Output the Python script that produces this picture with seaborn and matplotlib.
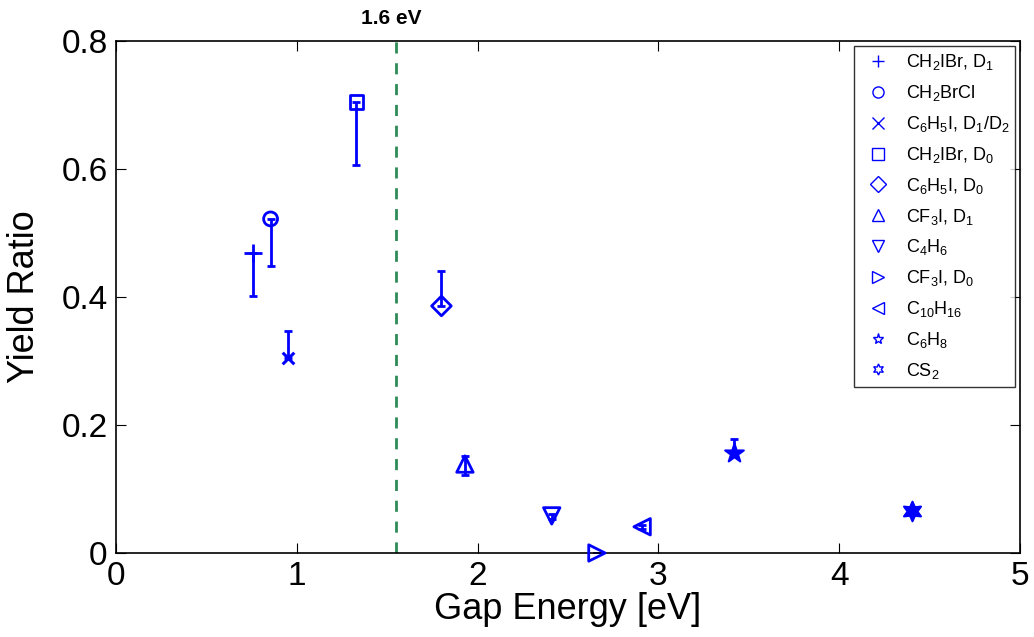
import matplotlib
matplotlib.use("Agg")
import matplotlib.pyplot as plt
from matplotlib.lines import Line2D
import seaborn as sns

# data
labels = [r"CH$_2$IBr, D$_1$", r"CH$_2$BrCl", r"C$_6$H$_5$I, D$_1$/D$_2$", r"CH$_2$IBr, D$_0$",
          r"C$_6$H$_5$I, D$_0$", r"CF$_3$I, D$_1$", r"C$_4$H$_6$", r"CF$_3$I, D$_0$",
          r"C$_{10}$H$_{16}$", r"C$_6$H$_8$", r"CS$_2$"]
gap = [0.76, 0.855, 0.95, 1.33, 1.80, 1.93, 2.41, 2.66, 2.91, 3.42, 4.40]
ratio = [0.469, 0.522, 0.304, 0.705, 0.386, 0.139, 0.058, 0.0, 0.041, 0.156, 0.066]
err_lo = [0.067, 0.073, 0.0, 0.098, 0.0, 0.017, 0.005, 0.0, 0.003, 0.0, 0.004]
err_hi = [0.0, 0.0, 0.043, 0.0, 0.054, 0.012, 0.003, 0.0, 0.002, 0.022, 0.004]
markers = ["+", "o", "x", "s", "D", "^", "v", ">", "<", "*", (6, 1, 0)]
cutoff = 1.55

sns.set_style("ticks")
plt.rcParams["font.family"] = ["Liberation Sans", "DejaVu Sans"]
plt.rcParams["mathtext.fontset"] = "custom"
plt.rcParams["mathtext.rm"] = "Liberation Sans"
plt.rcParams["mathtext.it"] = "Liberation Sans"
for key in ("text.color", "axes.labelcolor", "xtick.color", "ytick.color", "axes.edgecolor"):
    plt.rcParams[key] = "black"

fig = plt.figure(figsize=(10.34, 6.37), dpi=100)
ax = fig.add_axes([116 / 1034, 1 - 553 / 637, 904 / 1034, 512 / 637])

blue = (0, 0, 1)
for i, m in enumerate(markers):
    ax.errorbar([gap[i]], [ratio[i]], yerr=[[err_lo[i]], [err_hi[i]]], fmt="none",
                ecolor=blue, elinewidth=2, capsize=3, capthick=2, zorder=2)
    if m == "+":
        sns.scatterplot(x=[gap[i]], y=[ratio[i]], marker=m, s=150, color=blue,
                        linewidth=2, ax=ax, zorder=3)
    elif m == "x":
        sns.scatterplot(x=[gap[i]], y=[ratio[i]], marker=m, s=70, color=blue,
                        linewidth=2.2, ax=ax, zorder=3)
    elif m == "*" or isinstance(m, tuple):
        sns.scatterplot(x=[gap[i]], y=[ratio[i]], marker=m, s=200, color=blue,
                        edgecolor=blue, linewidth=1.5, ax=ax, zorder=3)
    else:
        size = 100 if m in ("o", "s", "D") else 140
        sns.scatterplot(x=[gap[i]], y=[ratio[i]], marker=m, s=size, facecolor="none",
                        edgecolor=blue, linewidth=2, ax=ax, zorder=3, clip_on=False)

ax.axvline(cutoff, color="#2e8b57", linestyle=(0, (4, 3.5)), linewidth=2, zorder=1)
ax.text(cutoff - 0.03, 0.82, "1.6 eV", ha="center", va="bottom", fontsize=15,
        fontweight="bold")

ax.set_xlim(0, 5)
ax.set_ylim(0, 0.8)
ax.set_xticks([0, 1, 2, 3, 4, 5])
ax.set_yticks([0, 0.2, 0.4, 0.6, 0.8])
ax.set_yticklabels(["0", "0.2", "0.4", "0.6", "0.8"])
ax.tick_params(direction="in", labelsize=24, length=7, width=0.8, pad=6,
               top=True, right=True)
for s in ax.spines.values():
    s.set_linewidth(1.2)
ax.set_xlabel("Gap Energy [eV]", fontsize=26, labelpad=0)
ax.set_ylabel("Yield Ratio", fontsize=26, labelpad=14)

handles = []
for m, lab in zip(markers, labels):
    if m in ("+", "x"):
        h = Line2D([], [], linestyle="none", marker=m, color=blue, markersize=8,
                   markeredgewidth=1)
    else:
        h = Line2D([], [], linestyle="none", marker=m, markerfacecolor="none",
                   markeredgecolor=blue, markersize=8, markeredgewidth=1)
    handles.append(h)
leg = ax.legend(handles, labels, loc="upper right", fontsize=13, frameon=True,
                fancybox=False, edgecolor="black", labelspacing=0.6,
                handletextpad=0.5, borderpad=0.35, borderaxespad=0,
                bbox_to_anchor=(0.995, 0.99))
leg.get_frame().set_linewidth(1)

fig.savefig("out.png", dpi=100)
